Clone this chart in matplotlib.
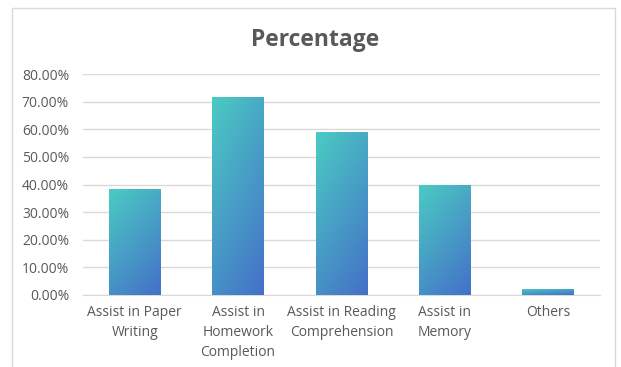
import numpy as np
import matplotlib.pyplot as plt
from matplotlib.colors import LinearSegmentedColormap
from matplotlib.patches import Rectangle
from matplotlib.ticker import FuncFormatter, MultipleLocator

categories = ['Assist in Paper\nWriting', 'Assist in\nHomework\nCompletion',
              'Assist in Reading\nComprehension', 'Assist in\nMemory', 'Others']
values = [0.383, 0.717, 0.591, 0.400, 0.022]

plt.rcParams['font.family'] = ['Open Sans', 'DejaVu Sans']
grey = '#595959'

fig = plt.figure(figsize=(6.21, 3.67), dpi=100)
# outer chart frame like an Excel chart area
fig.patches.append(Rectangle((12 / 621, -0.01), 603 / 621, 1 - 8 / 367 + 0.01,
                             transform=fig.transFigure, fill=False,
                             edgecolor='#d9d9d9', linewidth=1))

ax = fig.add_axes([83 / 621, 1 - 295 / 367, 517 / 621, 221 / 367])
x = np.arange(len(categories))
bars = ax.bar(x, values, width=0.5, color='none', zorder=3)

# diagonal gradient fill, teal (top-left) -> blue (bottom-right)
cmap = LinearSegmentedColormap.from_list('g', ['#4bcbc3', '#4470c8'])
u, v = np.meshgrid(np.linspace(0, 1, 50), np.linspace(0, 1, 100))
grad = (u * 0.35 + v * 0.65)
for b in bars:
    x0, w, h = b.get_x(), b.get_width(), b.get_height()
    im = ax.imshow(grad, cmap=cmap, extent=[x0, x0 + w, 0, h], origin='upper',
                   aspect='auto', zorder=3)
    im.set_clip_path(b)

ax.set_xlim(-0.5, len(categories) - 0.5)
ax.set_ylim(0, 0.8)
ax.yaxis.set_major_locator(MultipleLocator(0.1))
ax.yaxis.set_major_formatter(FuncFormatter(lambda y, _: f'{y * 100:.2f}%'))
ax.grid(axis='y', color='#d9d9d9', linewidth=1, zorder=0)
for s in ['top', 'right', 'left']:
    ax.spines[s].set_visible(False)
ax.spines['bottom'].set_color('#d9d9d9')
ax.tick_params(length=0, colors=grey, labelsize=10)
ax.tick_params(axis='y', pad=10)
ax.tick_params(axis='x', pad=7)
ax.set_xticks(x)
ax.set_xticklabels(categories, linespacing=1.45)

fig.text(315 / 621, 1 - 40 / 367, 'Percentage', fontsize=16.5, fontweight='bold',
         color=grey, ha='center', va='center')

fig.savefig('out.png', dpi=100)
